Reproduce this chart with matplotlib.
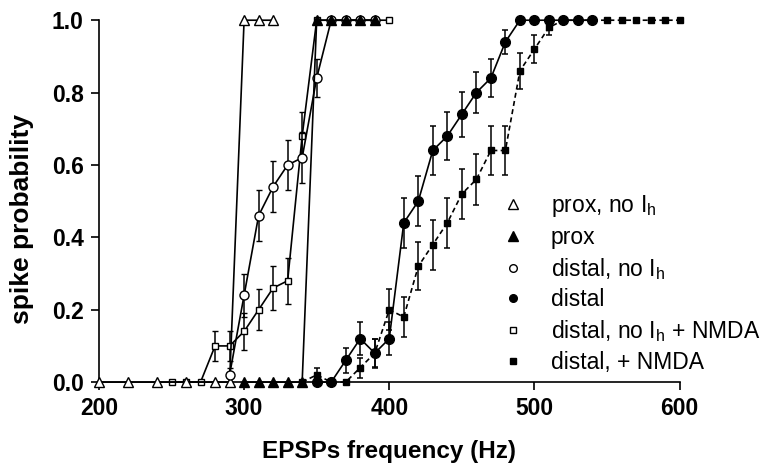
import matplotlib
matplotlib.use("Agg")
import matplotlib.pyplot as plt
from matplotlib.lines import Line2D

plt.rcParams['font.family'] = ['Liberation Sans', 'DejaVu Sans']
plt.rcParams['mathtext.fontset'] = 'custom'
plt.rcParams['mathtext.rm'] = 'Liberation Sans'
plt.rcParams['mathtext.it'] = 'Liberation Sans'

# prox, no Ih (open triangles)
f_prox_noih = [200, 220, 240, 260, 280, 290, 300, 310, 320]
p_prox_noih = [0, 0, 0, 0, 0, 0, 1.0, 1.0, 1.0]

# prox (filled triangles)
f_prox = [300, 310, 320, 330, 340, 350, 360, 370, 380, 390]
p_prox = [0, 0, 0, 0, 0, 1.0, 1.0, 1.0, 1.0, 1.0]

# distal, no Ih (open circles)
f_dist_noih = [290, 300, 310, 320, 330, 340, 350, 360, 370, 380, 390]
p_dist_noih = [0.02, 0.24, 0.46, 0.54, 0.60, 0.62, 0.84, 1.0, 1.0, 1.0, 1.0]
e_dist_noih = [0.02, 0.06, 0.07, 0.07, 0.07, 0.07, 0.052, 0, 0, 0, 0]

# distal (filled circles)
f_dist = [350, 360, 370, 380, 390, 400, 410, 420, 430, 440, 450, 460, 470, 480,
          490, 500, 510, 520, 530, 540]
p_dist = [0, 0, 0.06, 0.12, 0.08, 0.12, 0.44, 0.50, 0.64, 0.68, 0.74, 0.80, 0.84, 0.94,
          1.0, 1.0, 1.0, 1.0, 1.0, 1.0]
e_dist = [0, 0, 0.034, 0.046, 0.04, 0.046, 0.07, 0.07, 0.068, 0.066, 0.062, 0.057, 0.052, 0.034,
          0, 0, 0, 0, 0, 0]

# distal, no Ih + NMDA (open squares)
f_dist_noih_nmda = [250, 260, 270, 280, 290, 300, 310, 320, 330, 340,
                    350, 360, 370, 380, 390, 400]
p_dist_noih_nmda = [0, 0, 0, 0.10, 0.10, 0.14, 0.20, 0.26, 0.28, 0.68,
                    1.0, 1.0, 1.0, 1.0, 1.0, 1.0]
e_dist_noih_nmda = [0, 0, 0, 0.042, 0.042, 0.05, 0.057, 0.062, 0.063, 0.066,
                    0, 0, 0, 0, 0, 0]

# distal, + NMDA (filled squares, dashed)
f_dist_nmda = [340, 350, 360, 370, 380, 390, 400, 410, 420, 430, 440, 450, 460, 470, 480,
               490, 500, 510, 520, 530, 540, 550, 560, 570, 580, 590, 600]
p_dist_nmda = [0, 0.02, 0, 0, 0.04, 0.08, 0.20, 0.18, 0.32, 0.38, 0.44, 0.52, 0.56, 0.64, 0.64,
               0.86, 0.92, 0.98, 1.0, 1.0, 1.0, 1.0, 1.0, 1.0, 1.0, 1.0, 1.0]
e_dist_nmda = [0, 0.02, 0, 0, 0.028, 0.038, 0.057, 0.054, 0.066, 0.069, 0.07, 0.07, 0.07, 0.068, 0.068,
               0.049, 0.038, 0.02, 0, 0, 0, 0, 0, 0, 0, 0, 0]

x_ticks = [200, 300, 400, 500, 600]
y_ticks = [0.0, 0.2, 0.4, 0.6, 0.8, 1.0]

labels = ['prox, no I$_\\mathrm{h}$', 'prox', 'distal, no I$_\\mathrm{h}$', 'distal',
          'distal, no I$_\\mathrm{h}$ + NMDA', 'distal, + NMDA']

fig = plt.figure(figsize=(7.67, 4.70), dpi=100)
ax = fig.add_axes([0.129, 0.187, 0.757, 0.770])

lw = 1.2
eb = dict(ecolor='black', elinewidth=1.1, capsize=2.4, capthick=1.1)

ax.errorbar(f_dist_noih_nmda, p_dist_noih_nmda, yerr=e_dist_noih_nmda, color='black', lw=lw,
            marker='s', ms=4.5, mfc='white', mec='black', mew=1.0, clip_on=False, zorder=2, **eb)
ax.errorbar(f_dist_noih, p_dist_noih, yerr=e_dist_noih, color='black', lw=lw,
            marker='o', ms=6.5, mfc='white', mec='black', mew=1.0, clip_on=False, zorder=3, **eb)
ax.plot(f_prox_noih, p_prox_noih, color='black', lw=lw,
        marker='^', ms=6.5, mfc='white', mec='black', mew=1.0, clip_on=False, zorder=3)
ax.errorbar(f_dist_nmda, p_dist_nmda, yerr=e_dist_nmda, color='black', lw=lw, dashes=(3, 2),
            marker='s', ms=4, mfc='black', mec='black', clip_on=False, zorder=4, **eb)
ax.errorbar(f_dist, p_dist, yerr=e_dist, color='black', lw=lw,
            marker='o', ms=7, mfc='black', mec='black', clip_on=False, zorder=5, **eb)
ax.plot(f_prox, p_prox, color='black', lw=lw,
        marker='^', ms=7, mfc='black', mec='black', clip_on=False, zorder=6)

ax.set_xlim(200, 600)
ax.set_ylim(0, 1.0)
ax.set_xticks(x_ticks)
ax.set_yticks(y_ticks)
ax.set_yticklabels([f'{v:.1f}' for v in y_ticks])
for s in ['top', 'right']:
    ax.spines[s].set_visible(False)
for s in ['left', 'bottom']:
    ax.spines[s].set_linewidth(1.2)
ax.tick_params(direction='out', length=6, width=1.2, labelsize=16.5, pad=5)
for t in ax.get_xticklabels() + ax.get_yticklabels():
    t.set_fontweight('bold')

ax.set_xlabel('EPSPs frequency (Hz)', fontsize=17.5, fontweight='bold', labelpad=14)
ax.set_ylabel('spike probability', fontsize=19, fontweight='bold')
ax.yaxis.set_label_coords(-0.112, 0.45)

handles = [
    Line2D([], [], ls='none', marker='^', ms=7, mfc='white', mec='black'),
    Line2D([], [], ls='none', marker='^', ms=7, mfc='black', mec='black'),
    Line2D([], [], ls='none', marker='o', ms=5.5, mfc='white', mec='black'),
    Line2D([], [], ls='none', marker='o', ms=5.5, mfc='black', mec='black'),
    Line2D([], [], ls='none', marker='s', ms=4.5, mfc='white', mec='black'),
    Line2D([], [], ls='none', marker='s', ms=4, mfc='black', mec='black'),
]
ax.legend(handles, labels, loc='lower left', bbox_to_anchor=(0.666, -0.022), frameon=False,
          fontsize=16.5, handlelength=1.0, handletextpad=1.15, labelspacing=0.3, borderpad=0.2)

plt.savefig('out.png', dpi=100)
plt.close()
